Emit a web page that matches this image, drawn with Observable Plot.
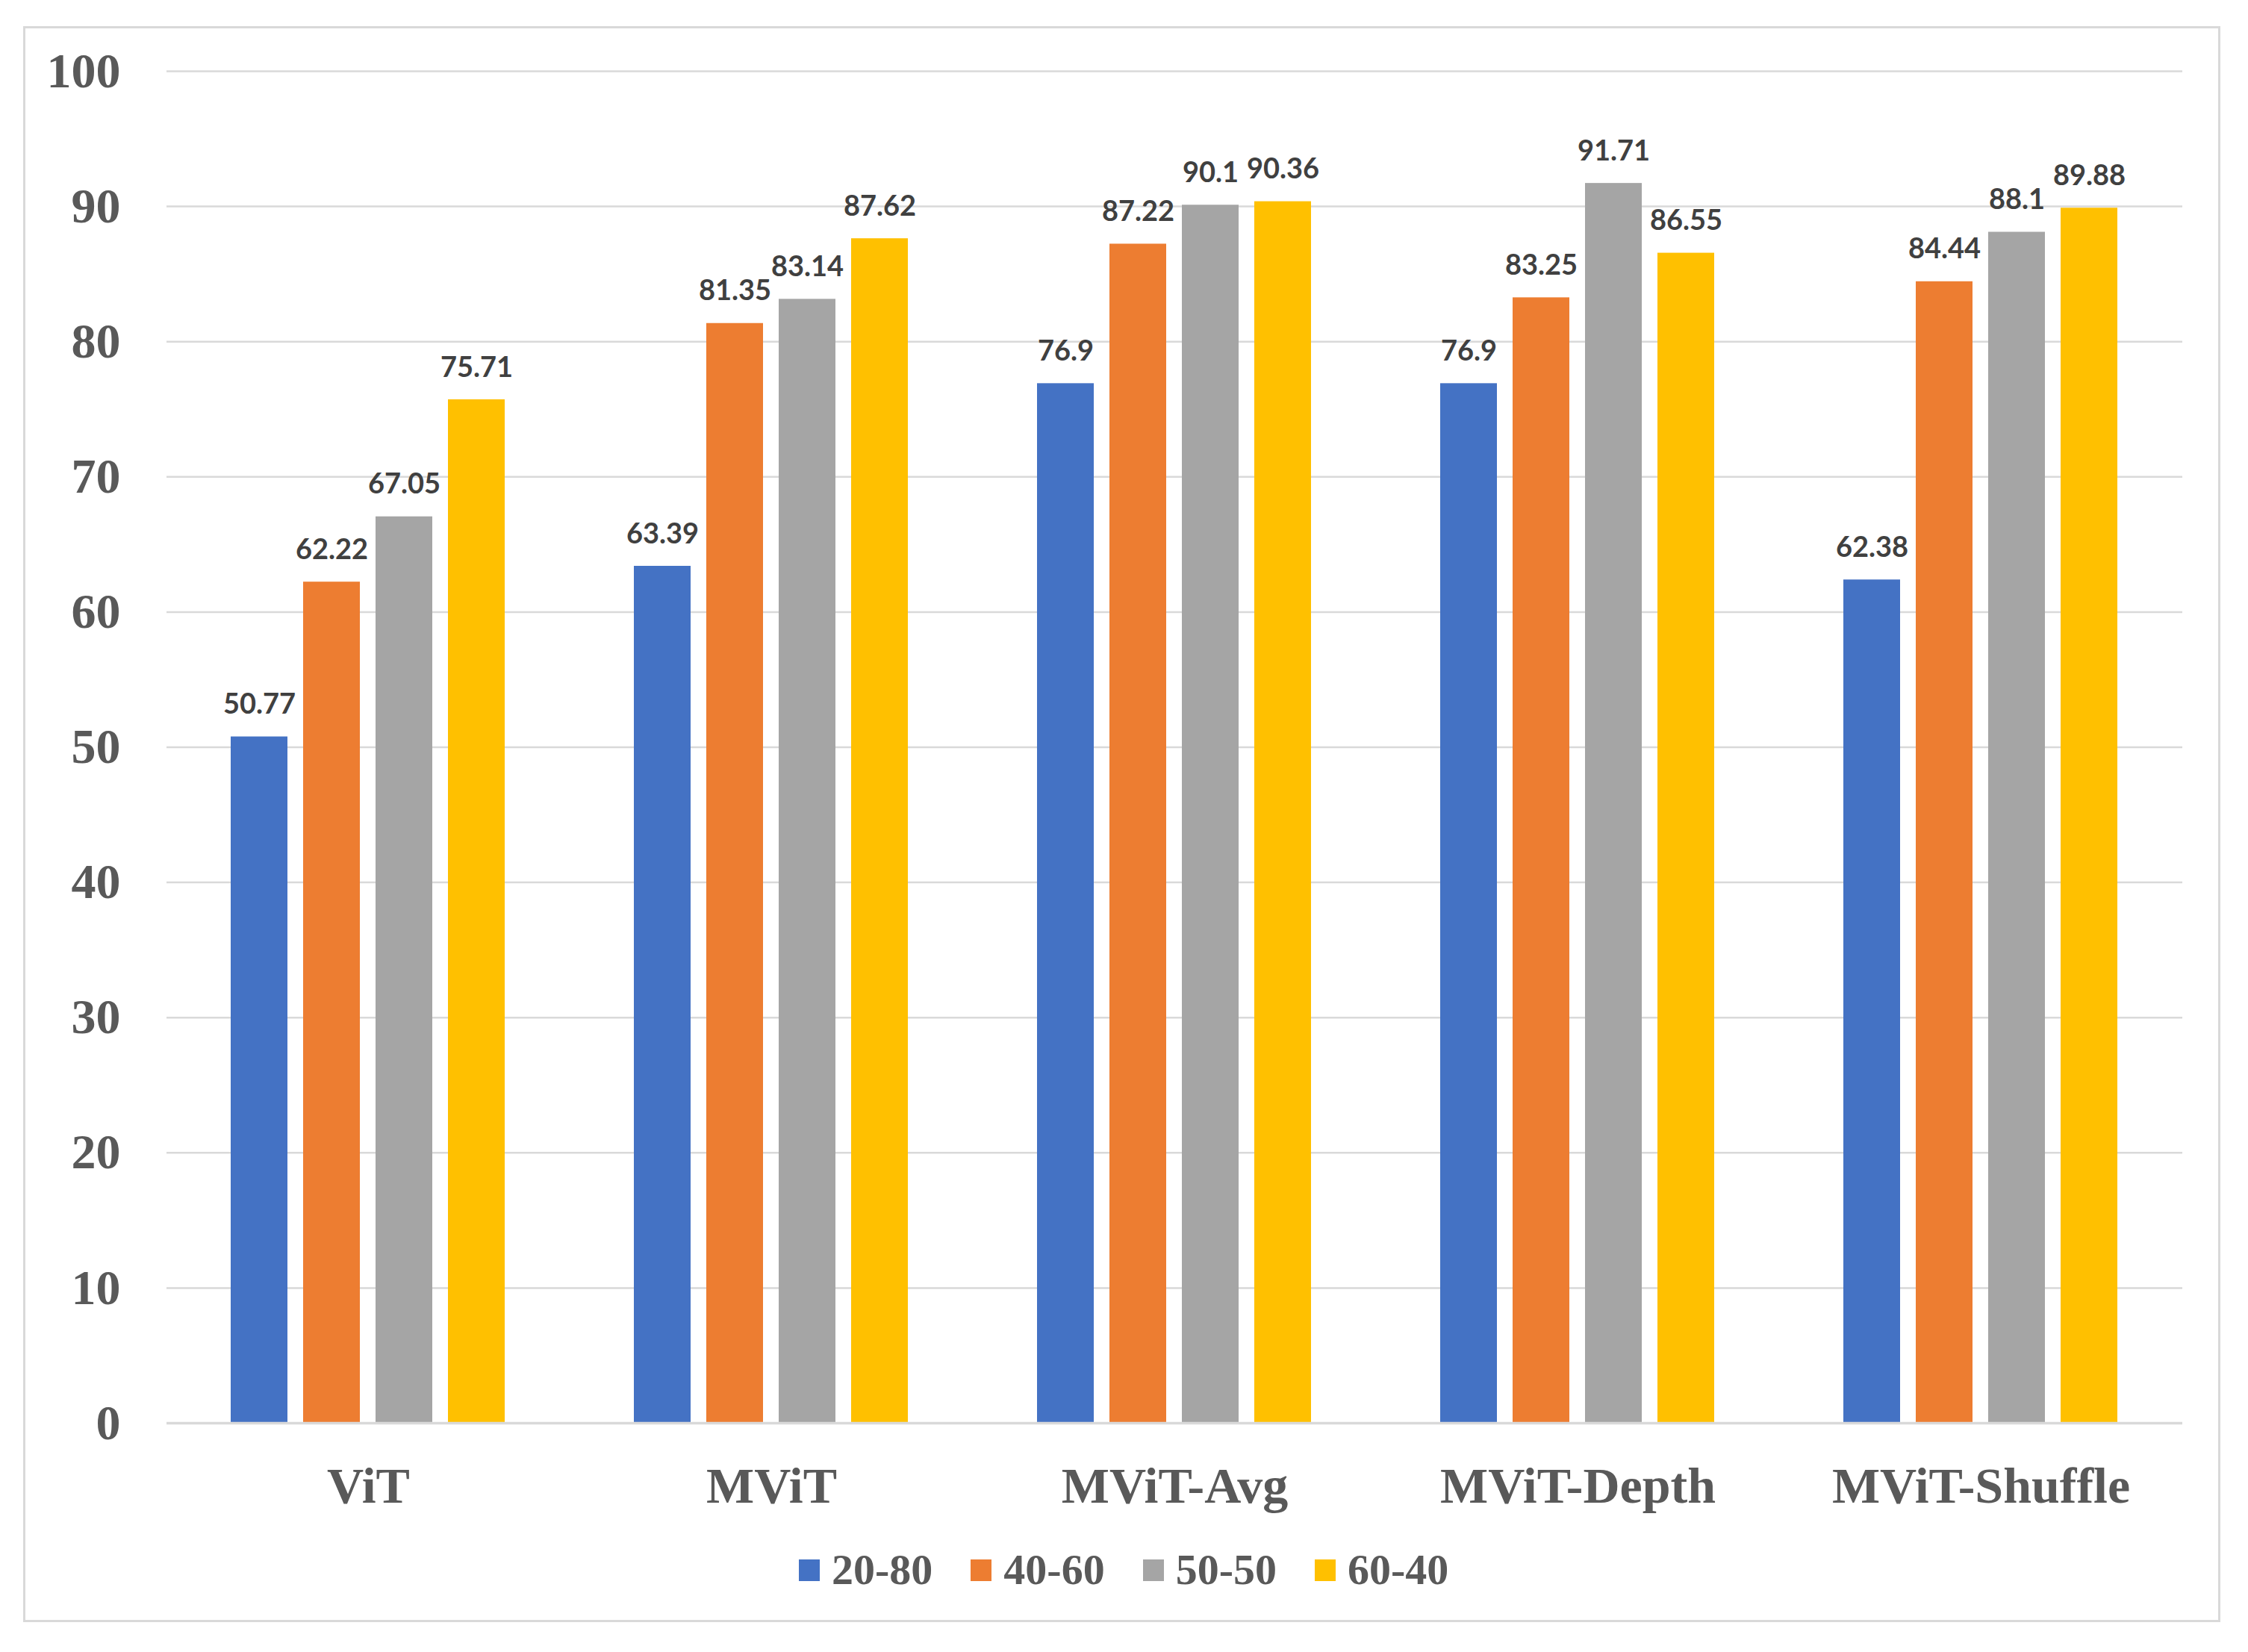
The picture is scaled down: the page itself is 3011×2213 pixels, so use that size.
<!DOCTYPE html>
<html>
<head>
<meta charset="utf-8">
<script src="https://cdn.jsdelivr.net/npm/d3@7"></script>
<script src="https://cdn.jsdelivr.net/npm/@observablehq/plot@0.6"></script>
<style>
  html, body { margin: 0; padding: 0; background: #fff; }
  #wrap { position: relative; width: 3011px; height: 2213px; overflow: hidden; background: #fff; }
  #frame { position: absolute; left: 31px; top: 35px; width: 2943px; height: 2138px; box-sizing: border-box; border: 3px solid #d9d9d9; pointer-events: none; }
  #chart { position: absolute; left: 0; top: 0; }
  #legend { position: absolute; top: 2074px; left: 1070px; display: flex; align-items: center; font-family: "Liberation Serif", serif; font-weight: bold; font-size: 58px; color: #595959; line-height: 1; }
  .item { display: flex; align-items: center; margin-right: 51px; }
  .sw { width: 28px; height: 29px; margin-right: 16px; }
</style>
</head>
<body>
<div id="wrap">
  <div id="chart"></div>
  <div id="frame"></div>
  <div id="legend"></div>
</div>
<script>
const categories = ["ViT", "MViT", "MViT-Avg", "MViT-Depth", "MViT-Shuffle"];
const series = ["20-80", "40-60", "50-50", "60-40"];
const v2080 = [50.77, 63.39, 76.9, 76.9, 62.38];
const v4060 = [62.22, 81.35, 87.22, 83.25, 84.44];
const v5050 = [67.05, 83.14, 90.1, 91.71, 88.1];
const v6040 = [75.71, 87.62, 90.36, 86.55, 89.88];
const colors = ["#4472C4", "#ED7D31", "#A5A5A5", "#FFC000"];
const yTicks = [0, 10, 20, 30, 40, 50, 60, 70, 80, 90, 100];

const seriesValues = [v2080, v4060, v5050, v6040];
const data = categories.flatMap((c, i) =>
  series.map((s, j) => ({ category: c, series: s, value: seriesValues[j][i] }))
);

const chart = Plot.plot({
  width: 3011,
  height: 2060,
  marginLeft: 221,
  marginRight: 87,
  marginTop: 95,
  marginBottom: 154,
  style: { background: "none", overflow: "visible" },
  fx: { domain: categories, padding: 0, label: null },
  x: { domain: series, paddingInner: 0.214, paddingOuter: 0.865, axis: null },
  y: { domain: [0, 100], axis: null },
  color: { domain: series, range: colors },
  marks: [
    Plot.gridY(yTicks, { stroke: "#d9d9d9", strokeOpacity: 1, strokeWidth: 2.5 }),
    Plot.axisY(yTicks, {
      tickSize: 0, tickPadding: 62, fontSize: 66, fontWeight: "bold",
      fontFamily: "Liberation Serif", fill: "#595959", label: null
    }),
    Plot.axisFx({
      anchor: "bottom", tickSize: 0, tickPadding: 58, fontSize: 68, fontWeight: "bold",
      fontFamily: "Liberation Serif", fill: "#595959", label: null
    }),
    Plot.barY(data, { fx: "category", x: "series", y: "value", fill: "series" }),
    Plot.ruleY([0], { stroke: "#d9d9d9", strokeWidth: 3.5 }),
    Plot.text(data, {
      fx: "category", x: "series", y: "value", text: d => String(d.value),
      dy: -43, fontSize: 38, fontWeight: "bold", fontFamily: "Lato", fill: "#404040"
    })
  ]
});
document.getElementById("chart").appendChild(chart);

const legend = document.getElementById("legend");
series.forEach((s, i) => {
  const item = document.createElement("div");
  item.className = "item";
  const sw = document.createElement("div");
  sw.className = "sw";
  sw.style.background = colors[i];
  const t = document.createElement("span");
  t.textContent = s;
  item.appendChild(sw);
  item.appendChild(t);
  legend.appendChild(item);
});
</script>
</body>
</html>
